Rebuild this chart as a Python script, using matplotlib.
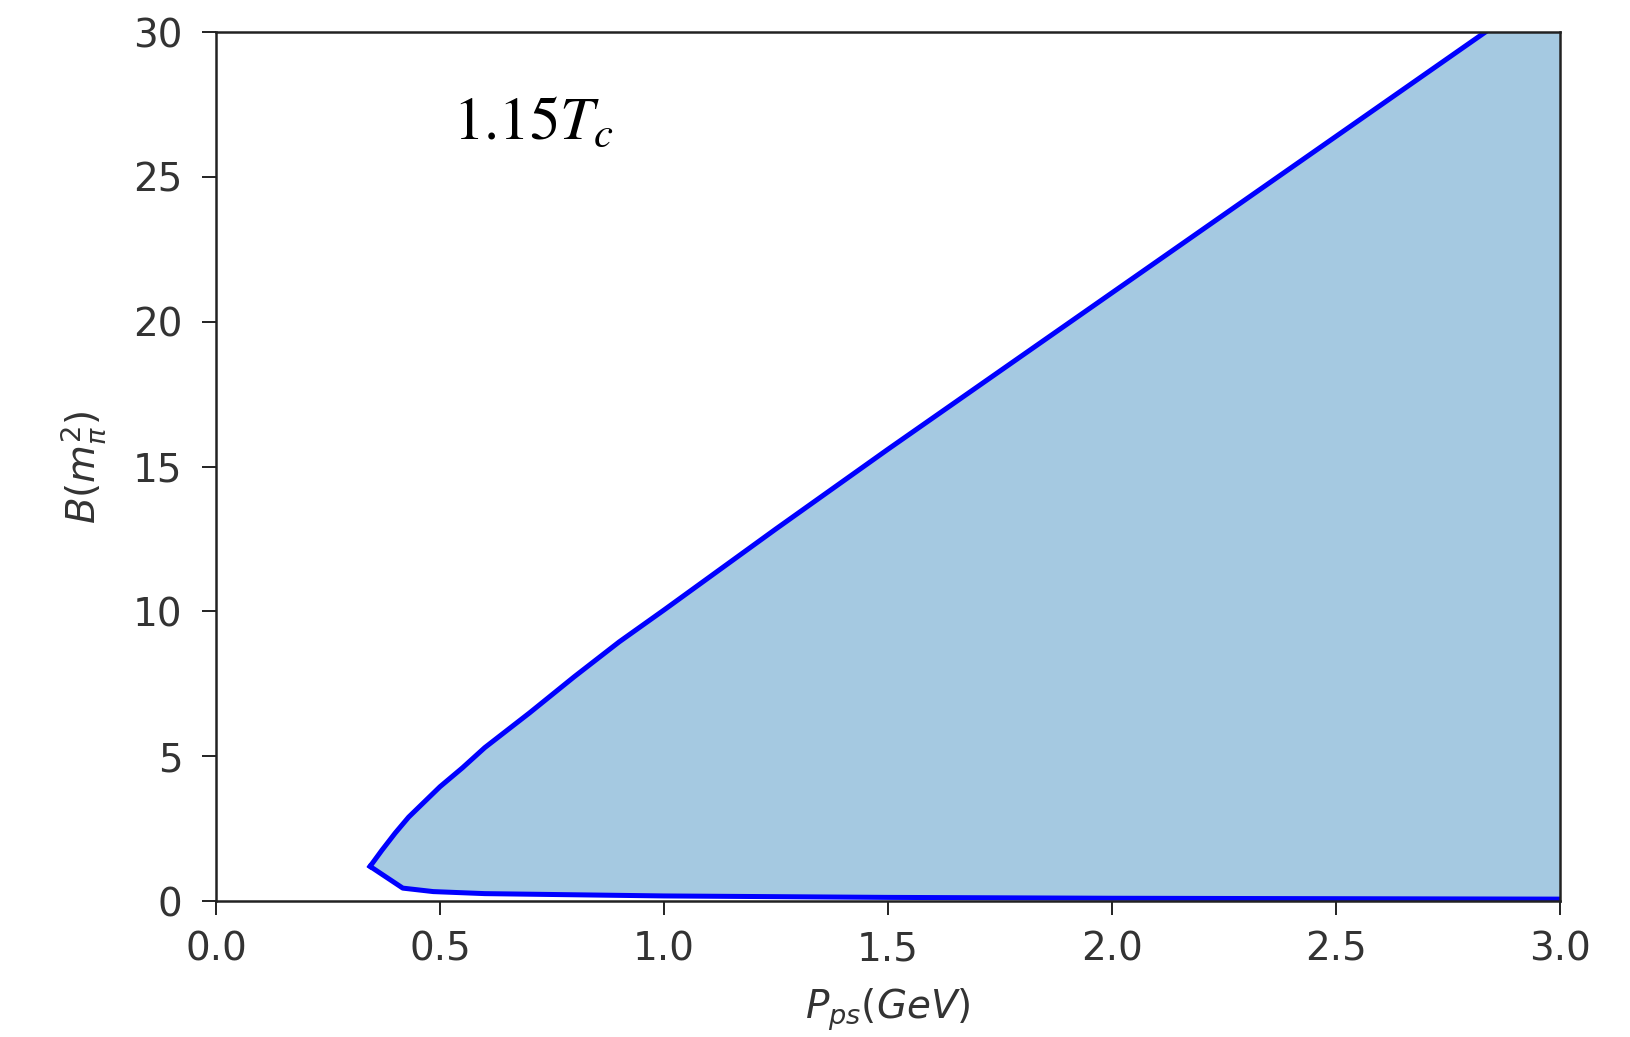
import matplotlib.pyplot as plt

# Boundary of the region
# upper branch (B grows with P_ps)
p_upper = [0.344, 0.37, 0.40, 0.43, 0.46, 0.50, 0.55, 0.60, 0.70, 0.80, 0.90,
           1.0, 1.25, 1.5, 1.75, 2.0, 2.25, 2.5, 2.75, 3.0]
b_upper = [1.2, 1.75, 2.35, 2.9, 3.35, 3.95, 4.6, 5.3, 6.5, 7.75, 8.95,
           10.05, 12.85, 15.6, 18.3, 21.0, 23.7, 26.4, 29.1, 31.8]

# lower branch (B close to zero)
p_lower = [0.344, 0.417, 0.485, 0.6, 1.0, 1.5, 2.0, 2.5, 3.0]
b_lower = [1.2, 0.45, 0.33, 0.26, 0.18, 0.13, 0.10, 0.085, 0.07]

x_ticks = [0.0, 0.5, 1.0, 1.5, 2.0, 2.5, 3.0]
y_ticks = [0, 5, 10, 15, 20, 25, 30]

plt.rcParams['mathtext.fontset'] = 'dejavusans'

fig = plt.figure(figsize=(16.3, 10.37), dpi=100)
ax = fig.add_axes([0.1325, 0.131, 0.8245, 0.838])

# boundary as one closed path: lower branch out, upper branch back
px = p_lower + p_upper[::-1]
py = b_lower + b_upper[::-1]
ax.fill(px, py, color='#a5c9e1', lw=0)
ax.plot(p_upper, b_upper, color='#0000ff', lw=3.6)
ax.plot(p_lower, b_lower, color='#0000ff', lw=3.6)

ax.set_xlim(0, 3)
ax.set_ylim(0, 30)
ax.set_xticks(x_ticks)
ax.set_yticks(y_ticks)
ax.set_xticklabels([f"{v:.1f}" for v in x_ticks])
ax.set_yticklabels([str(v) for v in y_ticks])

for s in ax.spines.values():
    s.set_linewidth(1.8)
    s.set_color('#222222')

ax.tick_params(axis='both', length=10, width=1.4, color='#222222',
               labelsize=28, labelcolor='#333333')
ax.tick_params(axis='x', pad=11)
ax.tick_params(axis='y', pad=14)

ax.set_xlabel(r'$P_{ps}(GeV)$', fontsize=28, color='#333333', labelpad=13)
ax.set_ylabel(r'$B(m_{\pi}^{2})$', fontsize=28, color='#333333', labelpad=18)

ax.text(0.529, 26.3, r'$1.15T_c$', fontsize=44, color='black',
        va='baseline', ha='left',
        math_fontfamily='stix')

fig.savefig('out.png', dpi=100)
